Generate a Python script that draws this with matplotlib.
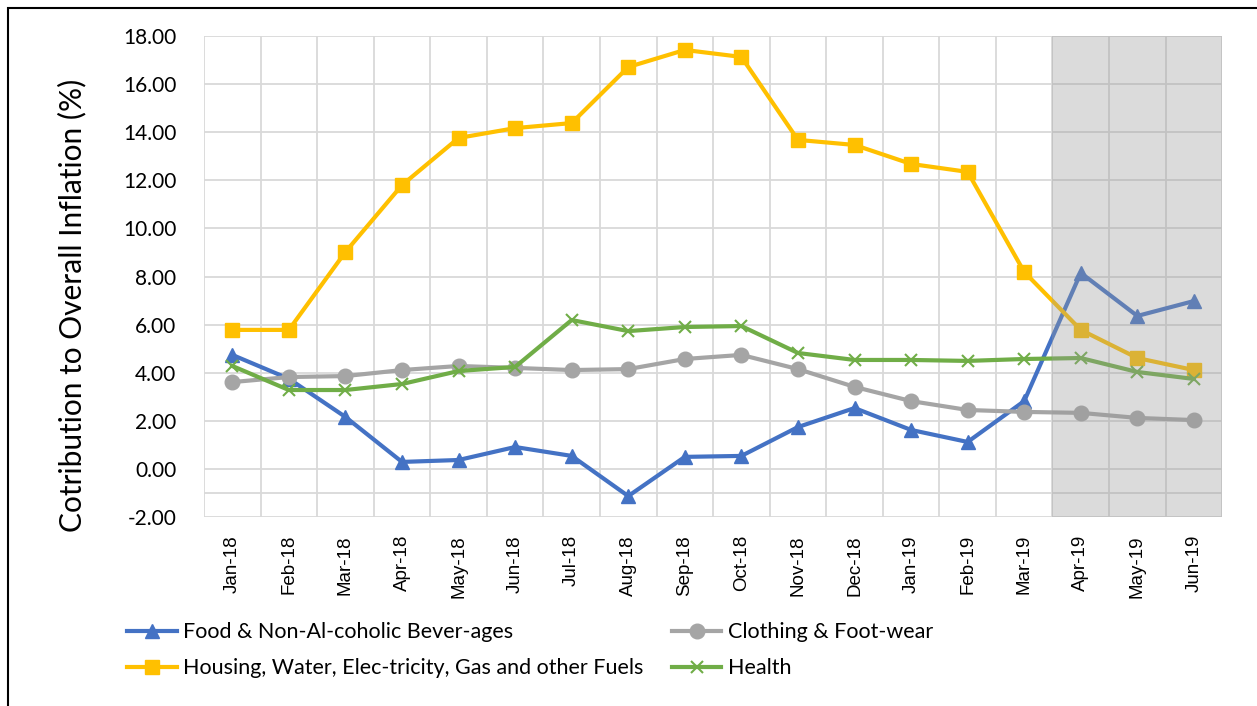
import matplotlib.pyplot as plt
import numpy as np
from matplotlib.patches import Rectangle

months = ["Jan-18", "Feb-18", "Mar-18", "Apr-18", "May-18", "Jun-18", "Jul-18", "Aug-18",
          "Sep-18", "Oct-18", "Nov-18", "Dec-18", "Jan-19", "Feb-19", "Mar-19", "Apr-19",
          "May-19", "Jun-19"]
food = [4.74, 3.75, 2.16, 0.29, 0.37, 0.91, 0.54, -1.13, 0.50, 0.54, 1.74, 2.53,
        1.62, 1.12, 2.82, 8.15, 6.36, 6.98]
clothing = [3.61, 3.82, 3.86, 4.11, 4.28, 4.20, 4.11, 4.15, 4.57, 4.74, 4.15, 3.41,
            2.82, 2.45, 2.37, 2.33, 2.12, 2.03]
housing = [5.78, 5.78, 9.02, 11.80, 13.76, 14.17, 14.38, 16.71, 17.42, 17.13, 13.68, 13.47,
           12.68, 12.35, 8.19, 5.78, 4.61, 4.11]
health = [4.28, 3.28, 3.28, 3.53, 4.07, 4.24, 6.19, 5.73, 5.90, 5.94, 4.82, 4.53,
          4.53, 4.49, 4.57, 4.61, 4.03, 3.74]
forecast_start = 15  # Apr-19 onward shaded

fig = plt.figure(figsize=(12.57, 7.06), dpi=100)
ax = fig.add_axes([0.1623, 0.2677, 0.81, 0.6813])

x = np.arange(len(months))
l1, = ax.plot(x, food, color="#4472C4", lw=3, marker="^", ms=10.5, label="Food & Non-Al-coholic Bever-ages", zorder=3)
l2, = ax.plot(x, clothing, color="#A5A5A5", lw=3, marker="o", ms=10.5, label="Clothing & Foot-wear", zorder=3)
l3, = ax.plot(x, housing, color="#FFC000", lw=3, marker="s", ms=10.5, label="Housing, Water, Elec-tricity, Gas and other Fuels", zorder=3)
l4, = ax.plot(x, health, color="#70AD47", lw=3, marker="x", ms=9, mew=1.5, label="Health", zorder=3)

ax.set_xlim(-0.5, len(months) - 0.5)
ax.set_ylim(-2, 18)
ax.set_yticks(np.arange(-2, 19, 2))
ax.set_yticklabels([f"{v:.2f}" for v in np.arange(-2, 19, 2)], fontsize=15, family="Lato")
ax.set_xticks(x)
ax.set_xticklabels(months, rotation=90, fontsize=13.5, family="Liberation Sans")
ax.set_xticks(np.arange(-0.5, len(months), 1), minor=True)
ax.set_yticks([-1], minor=True)
ax.tick_params(axis="both", which="both", length=0)
ax.tick_params(axis="y", pad=20)
ax.tick_params(axis="x", pad=13)
ax.grid(True, which="major", axis="y", color="#D9D9D9", lw=1.3, zorder=0)
ax.grid(True, which="minor", color="#D9D9D9", lw=1.3, zorder=0)
for s in ax.spines.values():
    s.set_visible(False)

# shaded forecast region over the lines
ax.add_patch(Rectangle((forecast_start - 0.5, -2), len(months) - forecast_start, 20,
                       facecolor="#999999", alpha=0.35, edgecolor="none", zorder=4))

ax.set_ylabel("Cotribution to Overall Inflation (%)", fontsize=21.5, family="Lato")
ax.yaxis.set_label_coords(-0.115, 0.44)

fig.legend([l1, l3, l2, l4], [l1.get_label(), l3.get_label(), l2.get_label(), l4.get_label()],
           loc="upper left", bbox_to_anchor=(0.086, 0.146), ncol=2, frameon=False,
           prop={"family": "Lato", "size": 15.5}, handlelength=2.3, handletextpad=0.3,
           columnspacing=1.3, labelspacing=0.75)

# figure border (top and left visible)
fig.add_artist(Rectangle((0.0064, -0.1), 1.2, 1.0887, transform=fig.transFigure,
                         fill=False, edgecolor="black", lw=1.5))

fig.savefig("out.png", dpi=100)
